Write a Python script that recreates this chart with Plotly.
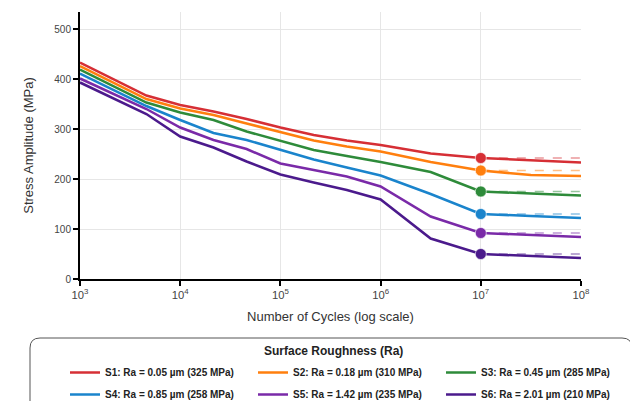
import plotly.graph_objects as go

cycles = [1e3, 4.6e3, 1e4, 2.15e4, 4.6e4, 1e5, 2.15e5, 4.6e5, 1e6, 3.16e6, 1e7, 3.16e7, 1e8]

s1 = [433, 367, 348, 335, 320, 303, 288, 277, 268, 251, 242, 237, 233]
s2 = [426, 360, 341, 328, 311, 294, 277, 265, 255, 234, 217, 208, 206]
s3 = [419, 353, 333, 318, 295, 277, 258, 246, 234, 214, 175, 171, 167]
s4 = [411, 346, 318, 292, 278, 259, 239, 223, 207, 170, 130, 126, 122]
s5 = [401, 340, 303, 278, 260, 231, 218, 205, 185, 125, 92, 88, 84]
s6 = [393, 330, 285, 263, 235, 209, 193, 178, 159, 81, 50, 46, 42]

names = [
    "S1: Ra = 0.05 µm (325 MPa)",
    "S2: Ra = 0.18 µm (310 MPa)",
    "S3: Ra = 0.45 µm (285 MPa)",
    "S4: Ra = 0.85 µm (258 MPa)",
    "S5: Ra = 1.42 µm (235 MPa)",
    "S6: Ra = 2.01 µm (210 MPa)",
]
series = [s1, s2, s3, s4, s5, s6]
colors = ["#d62f35", "#ff7f0e", "#2e8b3a", "#1a84cc", "#7a2aa8", "#4b1a8c"]
dashed_colors = ["rgba(214,47,53,0.5)", "rgba(255,127,14,0.5)", "rgba(46,139,58,0.5)",
                 "rgba(26,132,204,0.5)", "rgba(122,42,168,0.5)", "rgba(75,26,140,0.5)"]
legend_ids = ["legend", "legend2", "legend3", "legend", "legend2", "legend3"]

knee_cycle = 1e7
end_cycle = 1e8

fig = go.Figure()
for ys, dc in zip(series, dashed_colors):
    k = cycles.index(knee_cycle)
    fig.add_trace(go.Scatter(x=[knee_cycle, end_cycle], y=[ys[k], ys[k]], mode="lines",
                             line=dict(color=dc, width=1.5, dash="dash"),
                             showlegend=False, hoverinfo="skip"))
for i, (name, ys, c, lg) in enumerate(zip(names, series, colors, legend_ids)):
    fig.add_trace(go.Scatter(x=cycles, y=ys, mode="lines", name=name, legend=lg,
                             legendgroup=f"g{i}",
                             line=dict(color=c, width=2.5)))
for ys, c in zip(series, colors):
    k = cycles.index(knee_cycle)
    fig.add_trace(go.Scatter(x=[knee_cycle], y=[ys[k]], mode="markers",
                             marker=dict(color=c, size=11, line=dict(color="rgba(255,255,255,0.6)", width=1)),
                             showlegend=False))

# page has an 8px body margin; size the figure so the plot lands where the reference has it
OFF = 8
W, H = 638 - OFF, 401 - OFF
ml, mt = 80 - OFF, 12 - OFF
mr = W - (581 - OFF)
mb = H - (279 - OFF)
pw, ph = W - ml - mr, H - mt - mb

def px(x):  # screen x -> paper
    return (x - OFF - ml) / pw

def py(y):  # screen y -> paper
    return 1 - (y - OFF - mt) / ph

# rounded legend frame
x0, x1, y0, y1 = px(30), px(632), py(338), py(430)
rx, ry = 10 / pw, 10 / ph
path = (f"M {x0},{y1} L {x0},{y0 - ry} Q {x0},{y0} {x0 + rx},{y0} "
        f"L {x1 - rx},{y0} Q {x1},{y0} {x1},{y0 - ry} L {x1},{y1}")

leg_common = dict(orientation="v", xanchor="left", yanchor="top", y=py(358),
                  font=dict(size=10, color="#222", weight="bold"),
                  bgcolor="rgba(0,0,0,0)", borderwidth=0, tracegroupgap=3)

fig.update_layout(
    width=W, height=H,
    margin=dict(l=ml, r=mr, t=mt, b=mb, autoexpand=False),
    paper_bgcolor="white", plot_bgcolor="white",
    font=dict(family="Liberation Sans, Arial, sans-serif", color="#333"),
    xaxis=dict(type="log", range=[3, 8], dtick=1, exponentformat="power",
               showgrid=True, gridcolor="#e6e6e6", gridwidth=1,
               showline=True, linecolor="black", linewidth=2,
               ticks="outside", ticklen=5, tickcolor="black", tickwidth=1.5,
               tickfont=dict(size=9, color="#444"),
               title=dict(text="Number of Cycles (log scale)", font=dict(size=13, color="#333"), standoff=12),
               zeroline=False),
    yaxis=dict(range=[0, 534], dtick=100, tick0=0,
               showgrid=True, gridcolor="#e6e6e6", gridwidth=1,
               showline=True, linecolor="black", linewidth=2,
               ticks="outside", ticklen=5, tickcolor="black", tickwidth=1.5,
               tickfont=dict(size=10, color="#444"),
               title=dict(text="Stress Amplitude (MPa)", font=dict(size=13, color="#333"), standoff=18),
               zeroline=False),
    showlegend=True,
    legend=dict(x=px(65), **leg_common),
    legend2=dict(x=px(253), **leg_common),
    legend3=dict(x=px(441), **leg_common),
    shapes=[dict(type="path", path=path, xref="paper", yref="paper",
                 line=dict(color="#555", width=1), fillcolor="rgba(0,0,0,0)", layer="below")],
    annotations=[dict(text="<b>Surface Roughness (Ra)</b>", x=px(333), y=py(351), xref="paper", yref="paper",
                      showarrow=False, xanchor="center", yanchor="middle",
                      font=dict(size=12, color="#222"))],
)

fig.write_html("out.html")
